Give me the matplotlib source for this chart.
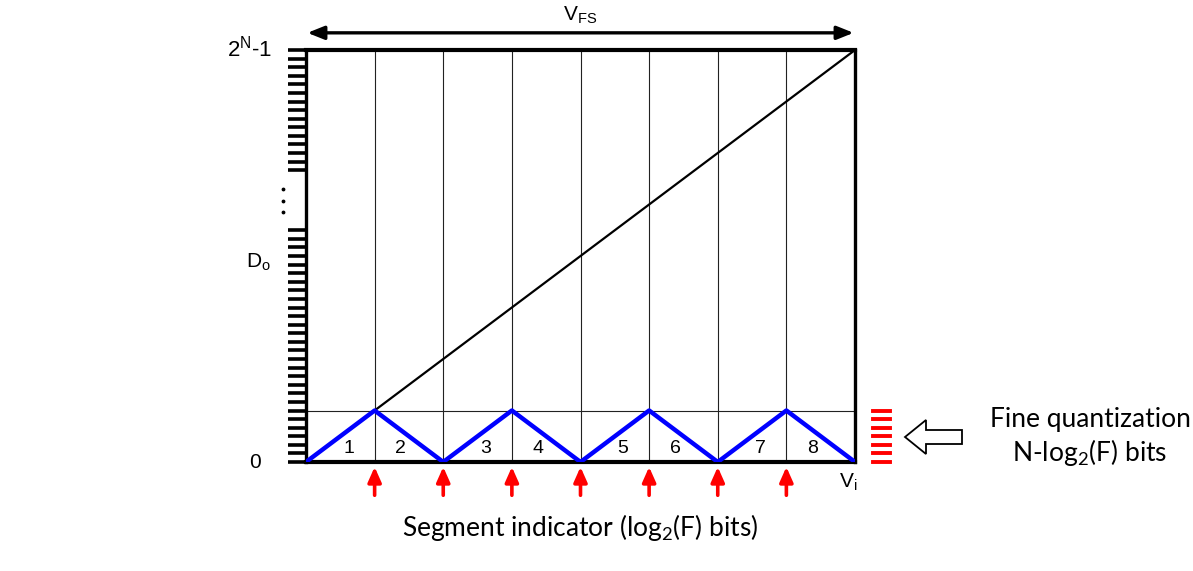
import numpy as np
import matplotlib.pyplot as plt

plt.rcParams['font.family'] = ['Liberation Sans', 'DejaVu Sans']
plt.rcParams['mathtext.default'] = 'regular'

# data (x in segment units, y in code units)
n_seg = 8
y_max = 48
fine_top = 6
seg_x = np.arange(0, n_seg + 1)
tri_y = [0, 6, 0, 6, 0, 6, 0, 6, 0]
ramp_x = [1, 8]
ramp_y = [6, 48]
seg_labels = ['1', '2', '3', '4', '5', '6', '7', '8']
lower_ticks = list(range(0, 28))
upper_ticks = list(range(34, 49))
fine_levels = list(range(0, 7))
arrow_pos = [1, 2, 3, 4, 5, 6, 7]

fig = plt.figure(figsize=(11.93, 5.71), dpi=100)
ax = fig.add_axes([306 / 1193, 109 / 571, 549 / 1193, 412 / 571])
ax.set_xlim(0, n_seg)
ax.set_ylim(0, y_max)

# grid lines
for x in seg_x[1:-1]:
    ax.plot([x, x], [0, y_max], color='#222222', lw=0.8, zorder=1)
ax.plot([0, n_seg], [fine_top, fine_top], color='#222222', lw=0.8, zorder=1)

# ramp and triangle wave
ax.plot(ramp_x, ramp_y, color='black', lw=1.6, zorder=2)
ax.plot(seg_x, tri_y, color='#0000ff', lw=3.2, zorder=3, solid_capstyle='round')

for i, lab in enumerate(seg_labels):
    off = 0.62 if i % 2 == 0 else 0.38
    ax.text(i + off, 1.6, lab, ha='center', va='center', fontsize=14)

# spines and ticks
for s in ['left', 'right']:
    ax.spines[s].set_linewidth(2.4)
for s in ['top', 'bottom']:
    ax.spines[s].set_linewidth(3.0)
ax.set_xticks([])
ax.set_yticks(lower_ticks + upper_ticks)
ax.tick_params(axis='y', direction='out', length=13, width=2.6, labelleft=False)

# vertical dots
ax.plot([-0.34] * 3, [29.1, 30.45, 31.8], 'k.', ms=3.5, clip_on=False)

# red segment arrows
for x in arrow_pos:
    ax.annotate('', xy=(x, -0.25), xytext=(x, -4.2), xycoords='data',
                arrowprops=dict(arrowstyle='-|>,head_length=0.9,head_width=0.4',
                                color='red', lw=2.6), annotation_clip=False)

# red fine levels
for y in fine_levels:
    ax.plot([8.26, 8.51], [y, y], color='red', lw=2.8, clip_on=False)

# top double arrow
ax.annotate('', xy=(-0.02, 50.0), xytext=(8.02, 50.0),
            arrowprops=dict(arrowstyle='<|-|>,head_length=1.0,head_width=0.4',
                            color='black', lw=2.4), annotation_clip=False)
ax.text(4.0, 52.0, 'V$_{FS}$', ha='center', va='center', fontsize=15)

# axis labels
ax.text(-0.49, 48.2, '2$^{N}$-1', ha='right', va='center', fontsize=16)
ax.text(-0.7, 23.3, 'D$_{o}$', ha='center', va='center', fontsize=15)
ax.text(-0.74, 0, '0', ha='center', va='center', fontsize=15)
ax.text(7.9, -2.4, 'V$_{i}$', ha='center', va='center', fontsize=15)

ax.text(4.0, -7.6, 'Segment indicator (log$_{2}$(F) bits)', ha='center',
        va='center', fontsize=19, family=['Lato', 'DejaVu Sans'])
fig.text(1090 / 1193, 1 - 420 / 571, 'Fine quantization', ha='center',
         va='center', fontsize=19, family=['Lato', 'DejaVu Sans'])
fig.text(1090 / 1193, 1 - 453 / 571, 'N-log$_{2}$(F) bits', ha='center',
         va='center', fontsize=19, family=['Lato', 'DejaVu Sans'])

# hollow arrow
fig.patches.append(plt.Polygon(
    [(905, 571 - 437), (926, 571 - 420), (926, 571 - 430), (962, 571 - 430),
     (962, 571 - 444), (926, 571 - 444), (926, 571 - 454)],
    closed=True, fc='white', ec='black', lw=1.3, transform=None))

fig.savefig('out.png', dpi=100)
